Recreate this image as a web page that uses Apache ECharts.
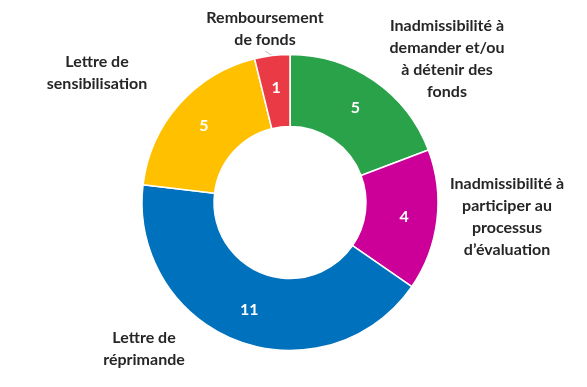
<!DOCTYPE html>
<html><head><meta charset="utf-8">
<script src="https://cdn.jsdelivr.net/npm/echarts@6/dist/echarts.min.js"></script>
<style>html,body{margin:0;padding:0;background:#fff}#c{width:587px;height:387px}</style>
</head><body><div id="c"></div>
<script>
const categories = [
  "Inadmissibilité à\ndemander et/ou\nà détenir des\nfonds",
  "Inadmissibilité à\nparticiper au\nprocessus\nd’évaluation",
  "Lettre de\nréprimande",
  "Lettre de\nsensibilisation",
  "Remboursement\nde fonds"
];
const values = [5, 4, 11, 5, 1];
const colors = ["#2AA24A", "#CC0099", "#0071BC", "#FFC000", "#EA3A45"];
// label anchor positions (px) for outside category labels
const labelAnchors = [[447, 59], [507, 217], [144, 349], [97, 73], [265, 29]];

const FONT = "Lato, 'Open Sans', sans-serif";
const data = categories.map((n, i) => ({ name: n, value: values[i], itemStyle: { color: colors[i] } }));
const center = [290, 202.5];
const radius = [76, 148];

const chart = echarts.init(document.getElementById('c'));
chart.setOption({
  animation: false,
  backgroundColor: '#fff',
  series: [
    {
      type: 'pie', center, radius, startAngle: 90, clockwise: true,
      data,
      itemStyle: { borderColor: '#fff', borderWidth: 1.5 },
      label: { show: true, position: 'inside', formatter: '{c}', color: '#fff', fontWeight: 'bold', fontSize: 16, fontFamily: FONT },
      labelLine: { show: false },
      emphasis: { disabled: true }
    },
    {
      type: 'pie', center, radius, startAngle: 90, clockwise: true, silent: true,
      data: data.map((d, i) => ({ name: d.name, value: d.value, itemStyle: { color: 'rgba(0,0,0,0)' },
        labelLine: { show: i === 4 } })),
      itemStyle: { borderWidth: 0 },
      label: { show: true, position: 'outside', formatter: '{b}', color: '#262626', fontWeight: 'bold', fontSize: 16, lineHeight: 22, fontFamily: FONT, align: 'center' },
      labelLine: { length: 6, length2: 0, lineStyle: { color: '#bfbfbf', width: 1 } },
      labelLayout: function (p) {
        const a = labelAnchors[p.dataIndex];
        return { x: a[0], y: a[1], align: 'center', verticalAlign: 'middle' };
      },
      emphasis: { disabled: true }
    }
  ]
});
</script></body></html>
